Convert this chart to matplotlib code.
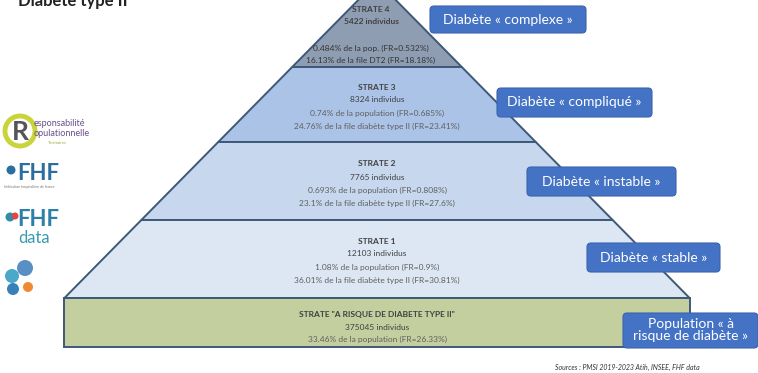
import matplotlib.pyplot as plt
from matplotlib.patches import Polygon, Rectangle, FancyBboxPatch, Circle

plt.rcParams['font.family'] = ['Lato', 'DejaVu Sans']

# strates, top to bottom
strate_names = ["STRATE 4", "STRATE 3", "STRATE 2", "STRATE 1"]
strate_counts = ["5422 individus", "8324 individus", "7765 individus", "12103 individus"]
strate_pop = ["0.484% de la pop. (FR=0.532%)",
              "0.74% de la population (FR=0.685%)",
              "0.693% de la population (FR=0.808%)",
              "1.08% de la population (FR=0.9%)"]
strate_file = ["16.13% de la file DT2 (FR=18.18%)",
               "24.76% de la file diabète type II (FR=23.41%)",
               "23.1% de la file diabète type II (FR=27.6%)",
               "36.01% de la file diabète type II (FR=30.81%)"]
strate_labels = ["Diabète « complexe »", "Diabète « compliqué »",
                 "Diabète « instable »", "Diabète « stable »"]

base_name = 'STRATE "A RISQUE DE DIABETE TYPE II"'
base_count = "375045 individus"
base_pop = "33.46% de la population (FR=26.33%)"
base_label = "Population « à\nrisque de diabète »"

title = "Diabète type II"
source = "Sources : PMSI 2019-2023 Atih, INSEE, FHF data"

# layout (pixels, y going down)
W, H = 758, 373
cx = 377
apex_y = -19
k = 0.986  # half-width per px below the apex
bounds = [apex_y, 67, 142, 220, 298]
fills = ["#8f9db2", "#abc3e6", "#c6d7ee", "#dde7f4"]
edge = "#3e5878"
label_boxes = [(430, 6, 156, 27), (497, 88, 155, 29), (527, 167, 149, 29),
               (587, 243, 133, 29), (623, 313, 135, 35)]

fig = plt.figure(figsize=(W / 100, H / 100), dpi=100)
ax = fig.add_axes([0, 0, 1, 1])
ax.set_xlim(0, W)
ax.set_ylim(H, 0)
ax.axis("off")

# the pyramid bands
for i in range(4):
    y0, y1 = bounds[i], bounds[i + 1]
    w0, w1 = (y0 - apex_y) * k, (y1 - apex_y) * k
    pts = [(cx - w0, y0), (cx + w0, y0), (cx + w1, y1), (cx - w1, y1)]
    ax.add_patch(Polygon(pts, closed=True, facecolor=fills[i], edgecolor=edge, lw=1.4, zorder=2))

# base rectangle
bw = (bounds[-1] - apex_y) * k
ax.add_patch(Rectangle((cx - bw, 298), 2 * bw, 49, facecolor="#c4cf9f", edgecolor=edge, lw=1.4, zorder=2))

txt_dark = "#404040"
txt_grey = "#5f5f5f"
fs = 6

# strate texts
ax.text(cx - 6, 10, strate_names[0], ha="center", va="center", fontsize=fs, fontweight="bold", color=txt_dark, zorder=3)
ax.text(cx - 6, 22, strate_counts[0], ha="center", va="center", fontsize=fs, fontweight="bold", color=txt_dark, zorder=3)
ax.text(cx - 6, 48, strate_pop[0], ha="center", va="center", fontsize=fs, color="#333333", zorder=3)
ax.text(cx - 6, 60, strate_file[0], ha="center", va="center", fontsize=fs, color="#333333", zorder=3)

for i, ys in zip([1, 2, 3], [87, 164, 241]):
    ax.text(cx, ys, strate_names[i], ha="center", va="center", fontsize=fs, fontweight="bold", color=txt_dark, zorder=3)
    ax.text(cx, ys + 13, strate_counts[i], ha="center", va="center", fontsize=fs, color=txt_dark, zorder=3)
    ax.text(cx, ys + 26, strate_pop[i], ha="center", va="center", fontsize=fs, color=txt_grey, zorder=3)
    ax.text(cx, ys + 39, strate_file[i], ha="center", va="center", fontsize=fs, color=txt_grey, zorder=3)

ax.text(cx, 315, base_name, ha="center", va="center", fontsize=fs, fontweight="bold", color=txt_dark, zorder=3)
ax.text(cx, 327, base_count, ha="center", va="center", fontsize=fs, color=txt_dark, zorder=3)
ax.text(cx, 339, base_pop, ha="center", va="center", fontsize=fs, color=txt_grey, zorder=3)

# blue labels on the right
for (x, y, w, h), lab in zip(label_boxes, strate_labels + [base_label]):
    ax.add_patch(FancyBboxPatch((x, y), w, h, boxstyle="round,pad=0,rounding_size=4",
                                facecolor="#4472c4", edgecolor="#3b64ad", lw=0.8, zorder=4))
    ax.text(x + w / 2, y + h / 2, lab, ha="center", va="center", fontsize=10,
            color="white", linespacing=1.0, zorder=5)

# title, cut by the top edge as in the source slide
ax.text(18, 6, title, ha="left", va="baseline", fontsize=12, fontweight="bold", color="#222222")

# source
ax.text(700, 367, source, ha="right", va="center", fontsize=5, style="italic", color="#333333")

# logos (rough)
ax.add_patch(Circle((20, 131), 15, facecolor="none", edgecolor="#c8d43a", lw=3.5))
ax.text(20, 132, "R", ha="center", va="center", fontsize=19, fontweight="bold", color="#555555")
ax.text(34, 124, "esponsabilité", ha="left", va="center", fontsize=6.5, color="#6a4f87")
ax.text(34, 134, "opulationnelle", ha="left", va="center", fontsize=6.5, color="#6a4f87")
ax.text(48, 143, "Territoires", ha="left", va="center", fontsize=3, color="#9aa83a")

ax.add_patch(Circle((11, 170), 4.5, facecolor="#2c6f9f", zorder=3))
ax.text(17, 173, "FHF", ha="left", va="center", fontsize=16, fontweight="bold", color="#2c6f9f")
ax.text(4, 187, "fédération hospitalière de france", ha="left", va="center", fontsize=2.5, color="#777777")

ax.add_patch(Circle((10, 217), 4.5, facecolor="#2c8fa8", zorder=3))
ax.add_patch(Circle((15, 216), 3.5, facecolor="#e04848", zorder=3))
ax.text(17, 220, "FHF", ha="left", va="center", fontsize=16, fontweight="bold", color="#2c80a8")
ax.text(18, 238, "data", ha="left", va="center", fontsize=12, color="#3a9ab0")

ax.add_patch(Circle((25, 268), 8, facecolor="#5a8fc4"))
ax.add_patch(Circle((12, 276), 7, facecolor="#4aa8c8"))
ax.add_patch(Circle((13, 289), 6, facecolor="#3a80b8"))
ax.add_patch(Circle((28, 287), 5, facecolor="#f08a30"))

fig.savefig("out.png", dpi=100)
